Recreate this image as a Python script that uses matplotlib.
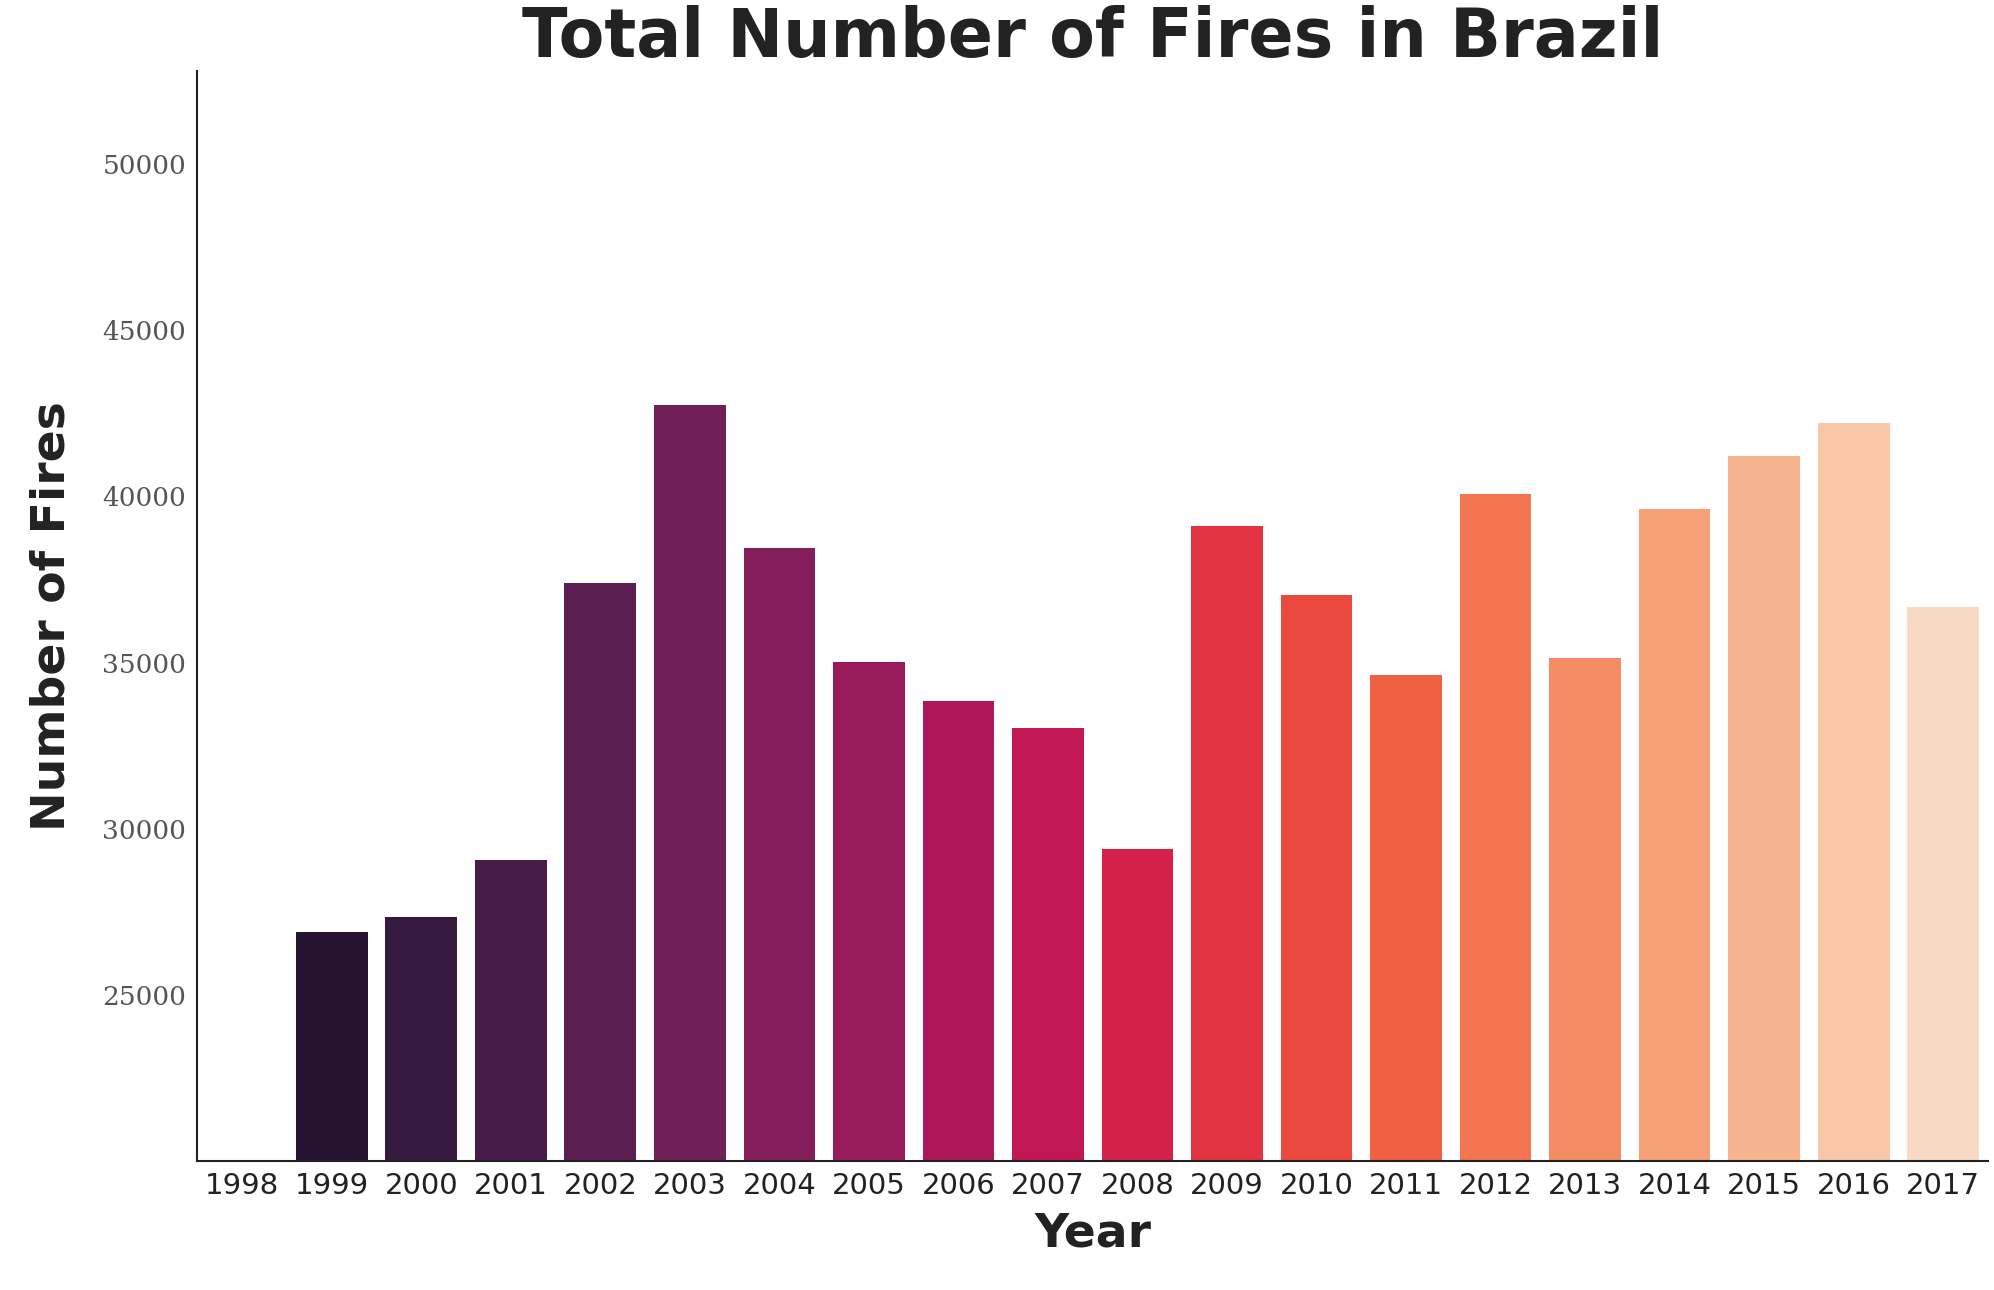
import matplotlib
matplotlib.use("Agg")
import matplotlib.pyplot as plt
import seaborn as sns

years = [str(y) for y in range(1998, 2018)]
fires = [20014, 26882, 27351, 29071, 37390, 42760, 38450, 35004, 33832, 33037,
         29378, 39117, 37037, 34633, 40084, 35146, 39621, 41208, 42212, 36685]

colors = sns.color_palette("rocket", len(years))

fig = plt.figure(figsize=(19.94, 12.9), dpi=100)
ax = fig.add_axes([0.099, 0.10, 0.898, 0.845])
ax.bar(range(len(years)), fires, width=0.8, color=colors)

ax.set_xlim(-0.5, len(years) - 0.5)
ax.set_ylim(20000, 52800)
ax.set_xticks(range(len(years)))
ax.set_xticklabels(years, fontsize=21, color="#222222")
ax.set_yticks([25000, 30000, 35000, 40000, 45000, 50000])
ax.set_yticklabels([str(v) for v in [25000, 30000, 35000, 40000, 45000, 50000]],
                   fontsize=19, family="DejaVu Serif", color="#555555")
ax.tick_params(length=0, pad=8)

ax.set_title("Total Number of Fires in Brazil", fontsize=48, fontweight="bold",
             color="#222222", pad=4)
ax.set_xlabel("Year", fontsize=34, fontweight="bold", color="#222222", labelpad=8)
ax.set_ylabel("Number of Fires", fontsize=34, fontweight="bold", color="#222222", labelpad=20)

ax.spines[["top", "right"]].set_visible(False)
for s in ("left", "bottom"):
    ax.spines[s].set_color("#222222")
    ax.spines[s].set_linewidth(1.5)

fig.savefig("out.png", dpi=100)
